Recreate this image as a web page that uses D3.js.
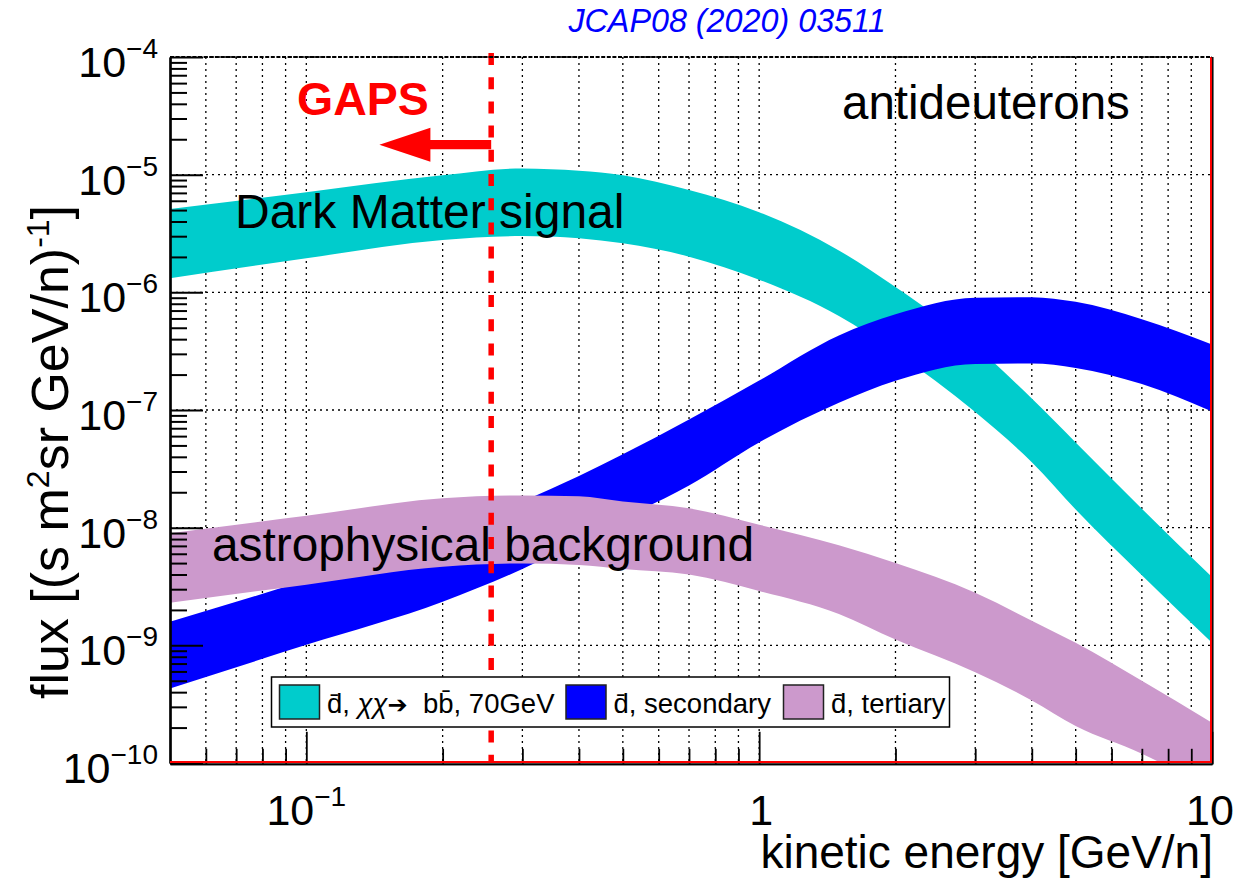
<!DOCTYPE html>
<html><head><meta charset="utf-8">
<script src="https://cdn.jsdelivr.net/npm/d3@7"></script>
<style>
body{margin:0;background:#fff}
text{font-family:"Liberation Sans",Arial,Helvetica,sans-serif}
</style>
</head><body>
<svg id="c" width="1253" height="880"></svg>
<script>
// ---------------- data ----------------
const energies = [0.05, 0.1, 0.2, 0.3, 0.4, 0.5, 0.7, 1, 1.5, 2, 3, 4, 5, 7, 10];
const dmUpper  = [5.1e-6, 7.1e-6, 9.9e-6, 1.13e-5, 1.08e-5, 9.9e-6, 7.4e-6, 4.8e-6, 2.27e-6, 1.11e-6, 3.5e-7, 1.25e-7, 5.3e-8, 1.45e-8, 3.8e-9];
const dmLower  = [1.32e-6, 1.95e-6, 2.79e-6, 3.01e-6, 2.88e-6, 2.61e-6, 2.01e-6, 1.28e-6, 6.3e-7, 3.1e-7, 9.6e-8, 3.6e-8, 1.43e-8, 3.95e-9, 1.05e-9];
const secUpper = [1.59e-9, 3.6e-9, 9.0e-9, 1.67e-8, 2.75e-8, 4.2e-8, 8.3e-8, 1.78e-7, 4.3e-7, 6.5e-7, 9.0e-7, 9.1e-7, 8.3e-7, 5.9e-7, 3.6e-7];
const secLower = [4.3e-10, 1.01e-9, 2.35e-9, 4.45e-9, 7.7e-9, 1.19e-8, 2.28e-8, 5.3e-8, 1.15e-7, 1.77e-7, 2.46e-7, 2.48e-7, 2.28e-7, 1.66e-7, 9.7e-8];
const terUpper = [8.95e-9, 1.26e-8, 1.78e-8, 1.88e-8, 1.85e-8, 1.67e-8, 1.46e-8, 1.06e-8, 7.1e-9, 5.0e-9, 2.8e-9, 1.62e-9, 1.05e-9, 5.0e-10, 2.2e-10];
const terLower = [2.3e-9, 3.28e-9, 4.66e-9, 4.96e-9, 4.82e-9, 4.46e-9, 4.0e-9, 2.9e-9, 1.85e-9, 1.12e-9, 5.9e-10, 3.4e-10, 2.06e-10, 1.2e-10, 5.9e-11];

const seriesColors = ["#00cccc", "#0000ff", "#cc99cc"];
const seriesNames  = ["d\u0304, \u03C7\u03C7\u2192  bb\u0304, 70GeV", "d\u0304, secondary", "d\u0304, tertiary"];

const xDomain = [0.05, 10];
const yDomain = [1e-10, 1e-4];
const xMajorTicks = [0.1, 1, 10];
const xTickBase = ["10", "1", "10"];
const xTickExp  = ["\u22121", "", ""];
const yExponents = [-4, -5, -6, -7, -8, -9, -10];

const gapsLimit = 0.256;       // GeV/n
const gapsArrowTip = 0.145;    // GeV/n
const gapsArrowFlux = 1.8e-5;

// ---------------- layout ----------------
const W = 1253, H = 880;
const L = 170, R = 1212, T = 57, B = 763;
const svg = d3.select("#c");
svg.append("rect").attr("width", W).attr("height", H).attr("fill", "#fff");

const x = d3.scaleLog().domain(xDomain).range([L, R]);
const y = d3.scaleLog().domain(yDomain).range([B, T]);

svg.append("clipPath").attr("id", "plot")
  .append("rect").attr("x", L).attr("y", T).attr("width", R - L).attr("height", B - T);

// grid
const xAllTicks = x.ticks();
const isMajor = v => Math.abs(Math.log10(v) - Math.round(Math.log10(v))) < 1e-9;
const grid = svg.append("g").attr("stroke", "#000").attr("stroke-width", 1.3)
  .attr("stroke-dasharray", "2 4");
grid.selectAll("line.v").data(xAllTicks.filter(v => v > xDomain[0] && v < xDomain[1]))
  .join("line").attr("class", "v")
  .attr("x1", d => x(d)).attr("x2", d => x(d)).attr("y1", T).attr("y2", B);
const yDecades = yExponents.map(e => Math.pow(10, e));
grid.selectAll("line.h").data(yDecades.filter(v => v > yDomain[0]))
  .join("line").attr("class", "h")
  .attr("x1", L).attr("x2", R).attr("y1", d => y(d)).attr("y2", d => y(d));

// bands
const bands = [
  {lo: dmLower, hi: dmUpper, color: seriesColors[0]},
  {lo: secLower, hi: secUpper, color: seriesColors[1]},
  {lo: terLower, hi: terUpper, color: seriesColors[2]},
];
const area = d3.area()
  .x(d => x(d.e)).y0(d => y(d.lo)).y1(d => y(d.hi))
  .curve(d3.curveMonotoneX);
const bandG = svg.append("g").attr("clip-path", "url(#plot)");
bands.forEach(b => {
  const pts = energies.map((e, i) => ({e, lo: b.lo[i], hi: b.hi[i]}));
  bandG.append("path").attr("d", area(pts)).attr("fill", b.color);
});

// GAPS dashed line
svg.append("line")
  .attr("x1", x(gapsLimit)).attr("x2", x(gapsLimit))
  .attr("y1", T - 4).attr("y2", B)
  .attr("stroke", "#ff0000").attr("stroke-width", 5.5)
  .attr("stroke-dasharray", "12 12.2");

// GAPS arrow
const ax0 = x(gapsLimit), ax1 = x(gapsArrowTip), ay = y(gapsArrowFlux);
const headLen = 51, headHalf = 17, shaftHalf = 4.6;
svg.append("path")
  .attr("d", `M${ax0},${ay - shaftHalf}L${ax1 + headLen},${ay - shaftHalf}L${ax1 + headLen},${ay - headHalf}` +
             `L${ax1},${ay}L${ax1 + headLen},${ay + headHalf}L${ax1 + headLen},${ay + shaftHalf}L${ax0},${ay + shaftHalf}Z`)
  .attr("fill", "#ff0000");
svg.append("text").attr("x", 297).attr("y", 115)
  .attr("font-size", 46.5).attr("font-weight", "bold").attr("fill", "#ff0000").text("GAPS");

// in-plot labels
svg.append("text").attr("x", 235).attr("y", 228).attr("font-size", 48).text("Dark Matter signal");
svg.append("text").attr("x", 212).attr("y", 561).attr("font-size", 47.8).text("astrophysical background");
svg.append("text").attr("x", 842).attr("y", 119).attr("font-size", 47.5).text("antideuterons");
svg.append("text").attr("x", 727).attr("y", 32).attr("text-anchor", "middle")
  .attr("font-size", 32.3).attr("font-style", "italic").attr("fill", "#0000ff").text("JCAP08 (2020) 03511");

// axes
const yMinor = [];
yExponents.slice(1).forEach(e => { for (let m = 2; m <= 9; m++) yMinor.push(m * Math.pow(10, e)); });
const yMaj = svg.append("g").attr("transform", `translate(${L},0)`)
  .call(d3.axisLeft(y).tickValues(yDecades).tickSize(-33).tickSizeOuter(0).tickFormat(""));
const yMin = svg.append("g").attr("transform", `translate(${L},0)`)
  .call(d3.axisLeft(y).tickValues(yMinor).tickSize(-17).tickSizeOuter(0).tickFormat(""));
[yMaj, yMin].forEach(g => { g.selectAll("line").attr("stroke-width", 2); g.select(".domain").attr("stroke-width", 2.2); });

const xMinor = xAllTicks.filter(v => !isMajor(v) && v > xDomain[0]);
const xMaj = svg.append("g").attr("transform", `translate(0,${B + 0.8})`)
  .call(d3.axisBottom(x).tickValues(xMajorTicks).tickSize(-32).tickSizeOuter(0).tickFormat(""));
const xMin = svg.append("g").attr("transform", `translate(0,${B + 0.8})`)
  .call(d3.axisBottom(x).tickValues(xMinor).tickSize(-15).tickSizeOuter(0).tickFormat(""));
[xMaj, xMin].forEach(g => { g.selectAll("line").attr("stroke-width", 1.8); g.select(".domain").attr("stroke-width", 1.8); });

// frame extras: red bottom/right lines, right black, top dotted
svg.append("line").attr("x1", L).attr("x2", R).attr("y1", B - 1).attr("y2", B - 1)
  .attr("stroke", "#ff0000").attr("stroke-width", 2);
svg.append("line").attr("x1", R + 0.8).attr("x2", R + 0.8).attr("y1", T).attr("y2", B + 1.5)
  .attr("stroke", "#000").attr("stroke-width", 1.5);
svg.append("line").attr("x1", R - 1).attr("x2", R - 1).attr("y1", T).attr("y2", B)
  .attr("stroke", "#ff0000").attr("stroke-width", 2);
svg.append("line").attr("x1", L).attr("x2", R).attr("y1", T).attr("y2", T)
  .attr("stroke", "#000").attr("stroke-width", 2.2).attr("stroke-dasharray", "4 1.6");

// y tick labels
yExponents.forEach(e => {
  const t = svg.append("text").attr("x", 158).attr("y", y(Math.pow(10, e)) + 20)
    .attr("text-anchor", "end").attr("font-size", 43);
  t.append("tspan").text("10");
  t.append("tspan").attr("dy", -19).attr("font-size", 28).text("\u2212" + Math.abs(e));
});
// x tick labels
const xLabelNudge = [0, 2, -2];
xMajorTicks.forEach((v, i) => {
  const t = svg.append("text").attr("x", x(v) + xLabelNudge[i]).attr("y", 825)
    .attr("text-anchor", "middle").attr("font-size", 43);
  t.append("tspan").text(xTickBase[i]);
  if (xTickExp[i]) t.append("tspan").attr("dy", -19).attr("font-size", 28).text(xTickExp[i]);
});

// axis titles
svg.append("text").attr("x", 1213).attr("y", 868).attr("text-anchor", "end")
  .attr("font-size", 46).text("kinetic energy [GeV/n]");
const yt = svg.append("text").attr("transform", "translate(68,452) rotate(-90)")
  .attr("text-anchor", "middle").attr("font-size", 52);
yt.append("tspan").text("flux [(s m");
yt.append("tspan").attr("dy", -19).attr("font-size", 32).text("2");
yt.append("tspan").attr("dy", 19).text("sr GeV/n)");
yt.append("tspan").attr("dy", -19).attr("font-size", 32).text("-1");
yt.append("tspan").attr("dy", 19).text("]");

// legend
const lg = svg.append("g");
lg.append("rect").attr("x", 271.5).attr("y", 677).attr("width", 678).attr("height", 50)
  .attr("fill", "#fff").attr("stroke", "#000").attr("stroke-width", 1.5);
const legX = [279.5, 566, 783.5];
seriesNames.forEach((name, i) => {
  lg.append("rect").attr("x", legX[i]).attr("y", 685).attr("width", 40).attr("height", 34)
    .attr("fill", seriesColors[i]).attr("stroke", "#222").attr("stroke-width", 1.5);
  const t = lg.append("text").attr("x", legX[i] + 47.5).attr("y", 713)
    .attr("font-size", 27.5).style("white-space", "pre");
  if (i === 0) {
    t.append("tspan").text("d\u0304, ");
    t.append("tspan").attr("font-style", "italic").text("\u03C7\u03C7");
    t.append("tspan").attr("font-family", "DejaVu Sans").attr("font-size", 24).text("\u2794");
    t.append("tspan").text("  bb\u0304, 70GeV");
  } else {
    t.text(name);
  }
});
</script>
</body></html>
